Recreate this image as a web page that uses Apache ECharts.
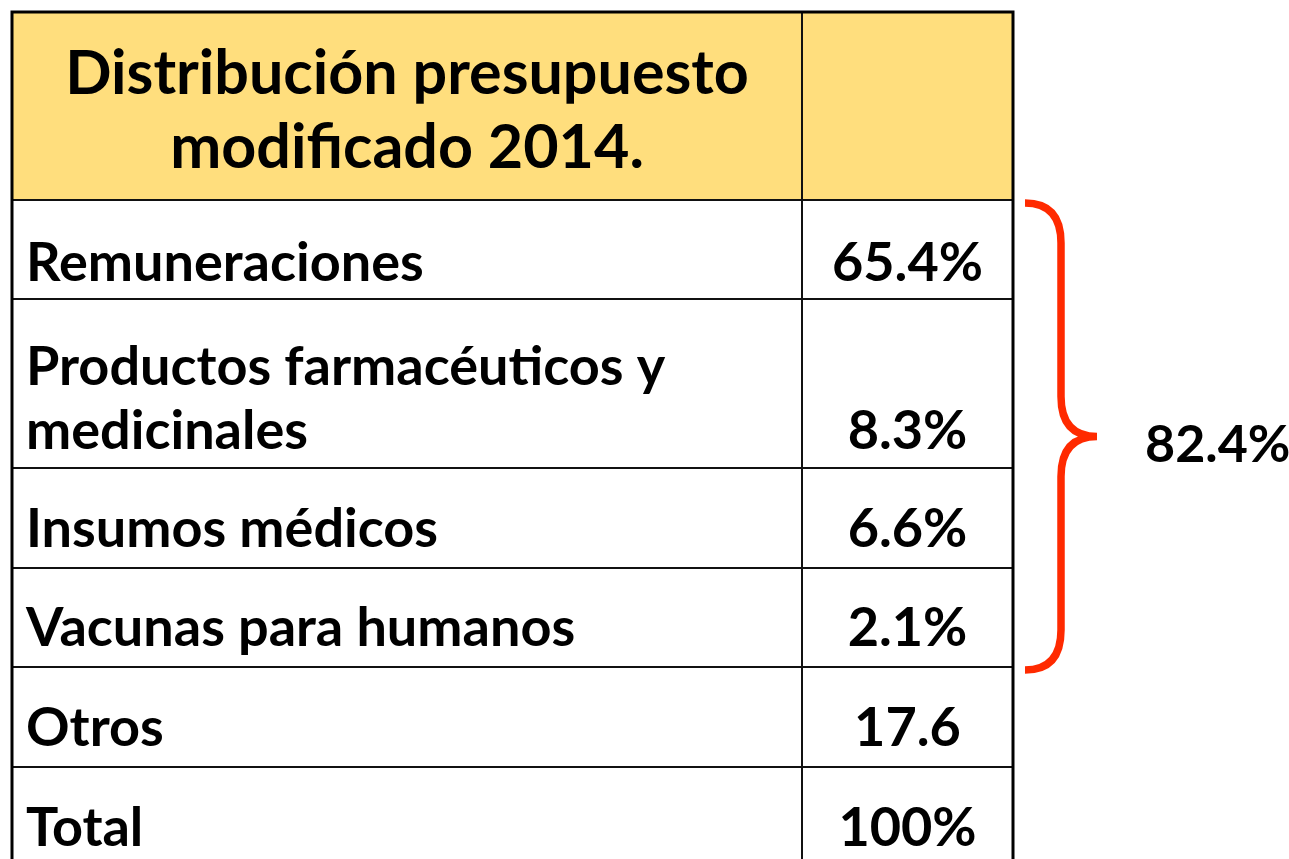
<!DOCTYPE html>
<html><head><meta charset="utf-8">
<script src="https://cdn.jsdelivr.net/npm/echarts@6/dist/echarts.min.js"></script>
<style>html,body{margin:0;padding:0;background:#fff}#c{width:1289px;height:859px}</style>
</head><body><div id="c"></div>
<script>
// ---- data ----
const headerLines = ['Distribución presupuesto', 'modificado 2014.'];
const categories = ['Remuneraciones', 'Productos farmacéuticos y\nmedicinales', 'Insumos médicos', 'Vacunas para humanos', 'Otros', 'Total'];
const values = [65.4, 8.3, 6.6, 2.1, 17.6, 100];
const valueLabels = ['65.4%', '8.3%', '6.6%', '2.1%', '17.6', '100%'];
const groupedRows = [0, 1, 2, 3];
const groupedTotalLabel = '82.4%';

// ---- layout (pixel-like units of the hidden axes) ----
const rowHeights = [188, 99, 169, 100, 99, 100, 99]; // header + 6 rows
const labelColWidth = 790, tableWidth = 1001;
const visibleH = 847;
const bodyFont = 54, headerFont = 61, bodyLineH = 64, headerLineH = 74, sideFont = 52;
const textBottomPad = [0, 35, 36, 38, 38, 38, 37]; // caps-centre distance from cell bottom
const FONT = 'Lato';

const rowTop = i => rowHeights.slice(0, i).reduce((a, b) => a + b, 0);
const totalH = rowTop(rowHeights.length);

function renderRow(params, api) {
  const i = api.value(0);
  const y0 = rowTop(i), y1 = y0 + rowHeights[i];
  const a = api.coord([0, y0]), b = api.coord([labelColWidth, y1]), c = api.coord([tableWidth, y1]);
  const fill = i === 0 ? '#FFDE7D' : '#ffffff';
  const children = [
    { type: 'rect', shape: { x: a[0], y: a[1], width: b[0] - a[0], height: b[1] - a[1] },
      style: { fill: fill, stroke: '#111', lineWidth: 2 } },
    { type: 'rect', shape: { x: b[0], y: a[1], width: c[0] - b[0], height: b[1] - a[1] },
      style: { fill: fill, stroke: '#111', lineWidth: 2 } }
  ];
  if (i === 0) {
    children.push({ type: 'text', x: (a[0] + b[0]) / 2, y: a[1] + 99,
      style: { text: headerLines.join('\n'), fill: '#000', font: 'bold ' + headerFont + 'px ' + FONT,
        align: 'center', verticalAlign: 'middle', lineHeight: headerLineH } });
  } else {
    const k = i - 1;
    const yc = b[1] - textBottomPad[i];
    const nLines = categories[k].split('\n').length;
    children.push({ type: 'text', x: a[0] + 14, y: yc - (nLines - 1) * bodyLineH / 2,
      style: { text: categories[k], fill: '#000', font: 'bold ' + bodyFont + 'px ' + FONT,
        align: 'left', verticalAlign: 'middle', lineHeight: bodyLineH } });
    children.push({ type: 'text', x: (b[0] + c[0]) / 2, y: yc,
      style: { text: valueLabels[k], fill: '#000', font: 'bold ' + bodyFont + 'px ' + FONT,
        align: 'center', verticalAlign: 'middle', lineHeight: bodyLineH } });
  }
  return { type: 'group', children: children };
}

function renderFrame(params, api) {
  const a = api.coord([0, 0]), c = api.coord([tableWidth, totalH]);
  return { type: 'rect', shape: { x: a[0], y: a[1], width: c[0] - a[0], height: c[1] - a[1] },
    style: { fill: 'none', stroke: '#000', lineWidth: 3 } };
}

function renderBracket(params, api) {
  const first = groupedRows[0] + 1, last = groupedRows[groupedRows.length - 1] + 1;
  const top = api.coord([tableWidth + 12, rowTop(first) + 3]);
  const bot = api.coord([tableWidth + 12, rowTop(last + 1) + 3]);
  const xa = top[0], xv = api.coord([tableWidth + 48, 0])[0], xp = api.coord([tableWidth + 84, 0])[0];
  const ty = top[1], by = bot[1], my = (ty + by) / 2, r = 40;
  const path = `M${xa} ${ty} Q${xv} ${ty} ${xv} ${ty + r} L${xv} ${my - r} Q${xv} ${my} ${xp} ${my} ` +
    `Q${xv} ${my} ${xv} ${my + r} L${xv} ${by - r} Q${xv} ${by} ${xa} ${by}`;
  return { type: 'group', children: [
    { type: 'path', shape: { pathData: path }, style: { fill: 'none', stroke: '#FF2A00', lineWidth: 7.5 } },
    { type: 'text', x: xp + 48, y: my + 9,
      style: { text: groupedTotalLabel, fill: '#000', font: 'bold ' + sideFont + 'px ' + FONT,
        align: 'left', verticalAlign: 'middle' } }
  ] };
}

const chart = echarts.init(document.getElementById('c'), null, { renderer: 'canvas' });
chart.setOption({
  animation: false,
  backgroundColor: '#ffffff',
  grid: { left: 12, top: 12, width: 1277, height: visibleH },
  xAxis: { type: 'value', min: 0, max: 1277, show: false },
  yAxis: { type: 'value', min: 0, max: visibleH, inverse: true, show: false },
  series: [
    { type: 'custom', clip: false, renderItem: renderRow, data: rowHeights.map((h, i) => [i]), encode: { x: -1, y: -1 } },
    { type: 'custom', clip: false, renderItem: renderFrame, data: [[0]], encode: { x: -1, y: -1 } },
    { type: 'custom', clip: false, renderItem: renderBracket, data: [[0]], encode: { x: -1, y: -1 } }
  ]
});
</script></body></html>
